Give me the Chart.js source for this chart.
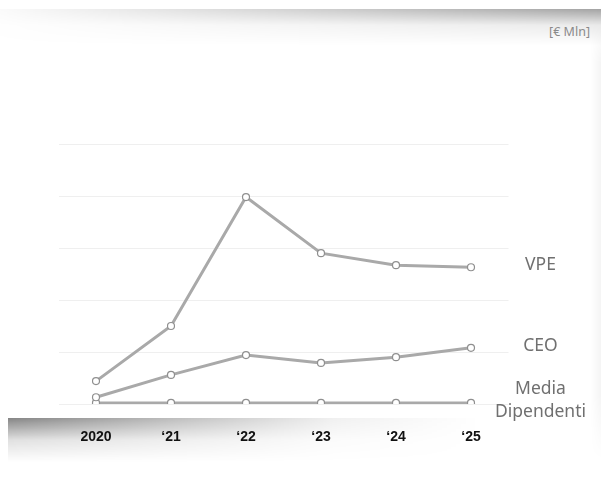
<!DOCTYPE html>
<html>
<head>
<meta charset="utf-8">
<script src="https://cdn.jsdelivr.net/npm/chart.js@4.4.1/dist/chart.umd.min.js"></script>
<style>
  html, body { margin: 0; padding: 0; background: #fff; }
  #wrap { position: relative; width: 601px; height: 494px; overflow: hidden; background: #fff; }
  .shadeTop {
    position: absolute; left: 0; top: 9px; width: 601px; height: 36px;
    background: linear-gradient(to bottom, rgba(0,0,0,0.36), rgba(0,0,0,0.08) 45%, rgba(0,0,0,0));
    -webkit-mask-image: linear-gradient(to right, rgba(0,0,0,0.05), rgba(0,0,0,0.5) 50%, #000);
    mask-image: linear-gradient(to right, rgba(0,0,0,0.05), rgba(0,0,0,0.5) 50%, #000);
  }
  .shadeBottom {
    position: absolute; left: 8px; top: 418px; width: 593px; height: 44px;
    background: linear-gradient(to bottom, rgba(0,0,0,0.48), rgba(0,0,0,0.12) 50%, rgba(0,0,0,0));
    -webkit-mask-image: linear-gradient(to right, #000, rgba(0,0,0,0.5) 30%, rgba(0,0,0,0.12) 55%, rgba(0,0,0,0) 80%);
    mask-image: linear-gradient(to right, #000, rgba(0,0,0,0.5) 30%, rgba(0,0,0,0.12) 55%, rgba(0,0,0,0) 80%);
  }
  .shadeRight {
    position: absolute; left: 590px; top: 20px; width: 11px; height: 440px;
    background: linear-gradient(to right, rgba(0,0,0,0), rgba(0,0,0,0.04));
    -webkit-mask-image: linear-gradient(to bottom, rgba(0,0,0,0), #000 10%, #000 85%, rgba(0,0,0,0));
    mask-image: linear-gradient(to bottom, rgba(0,0,0,0), #000 10%, #000 85%, rgba(0,0,0,0));
  }
  .unit {
    position: absolute; right: 11px; top: 23px;
    font: 12.5px "Noto Sans", sans-serif; color: #8a8a8a;
  }
  canvas { position: absolute; left: 0; top: 0; }
</style>
</head>
<body>
<div id="wrap">
  <div class="shadeTop"></div>
  <div class="shadeBottom"></div>
  <div class="shadeRight"></div>
  <div class="unit">[€ Mln]</div>
  <canvas id="chart" width="601" height="494"></canvas>
</div>
<script>
const years = ['2020', '\u201821', '\u201822', '\u201823', '\u201824', '\u201825'];
const vpe = [0.44, 1.5, 3.98, 2.9, 2.67, 2.63];
const ceo = [0.13, 0.56, 0.94, 0.79, 0.9, 1.08];
const mediaDipendenti = [0.02, 0.02, 0.02, 0.02, 0.02, 0.02];
const seriesNames = [['VPE'], ['CEO'], ['Media', 'Dipendenti']];

const lineGrey = '#a9a9a9';

function series(label, data) {
  return {
    label: label,
    data: data,
    borderColor: lineGrey,
    borderWidth: 3,
    pointRadius: 3.5,
    pointBorderWidth: 1.2,
    pointBorderColor: '#8f8f8f',
    pointBackgroundColor: '#fff',
    tension: 0
  };
}

// names at the right end of each line
const endLabels = {
  id: 'endLabels',
  afterDatasetsDraw(chart) {
    const ctx = chart.ctx;
    const area = chart.chartArea;
    ctx.save();
    ctx.font = '17.5px "Noto Sans", sans-serif';
    ctx.fillStyle = '#707070';
    ctx.textAlign = 'center';
    ctx.textBaseline = 'middle';
    chart.data.datasets.forEach((ds, i) => {
      const pts = chart.getDatasetMeta(i).data;
      const last = pts[pts.length - 1];
      const lines = seriesNames[i];
      const lh = 23;
      const y0 = last.y - 2 - (lines.length - 1) * lh / 2;
      lines.forEach((t, j) => ctx.fillText(t, area.right + 32, y0 + j * lh));
    });
    ctx.restore();
  }
};

new Chart(document.getElementById('chart'), {
  type: 'line',
  data: {
    labels: years,
    datasets: [
      series('VPE', vpe),
      series('CEO', ceo),
      series('Media Dipendenti', mediaDipendenti)
    ]
  },
  options: {
    responsive: false,
    animation: false,
    layout: { padding: { left: 58.5, right: 92.5, top: 144, bottom: 23.2 } },
    plugins: { legend: { display: false }, tooltip: { enabled: false } },
    scales: {
      x: {
        offset: true,
        grid: { display: false, drawTicks: false },
        border: { display: false },
        ticks: {
          padding: 25,
          color: '#111',
          font: { family: '"Liberation Sans", Arial, sans-serif', size: 14, weight: 'bold' }
        }
      },
      y: {
        min: 0,
        max: 5,
        ticks: { display: false, stepSize: 1 },
        border: { display: false },
        grid: { color: '#efefef', lineWidth: 1, drawTicks: false }
      }
    }
  },
  plugins: [endLabels]
});
</script>
</body>
</html>
